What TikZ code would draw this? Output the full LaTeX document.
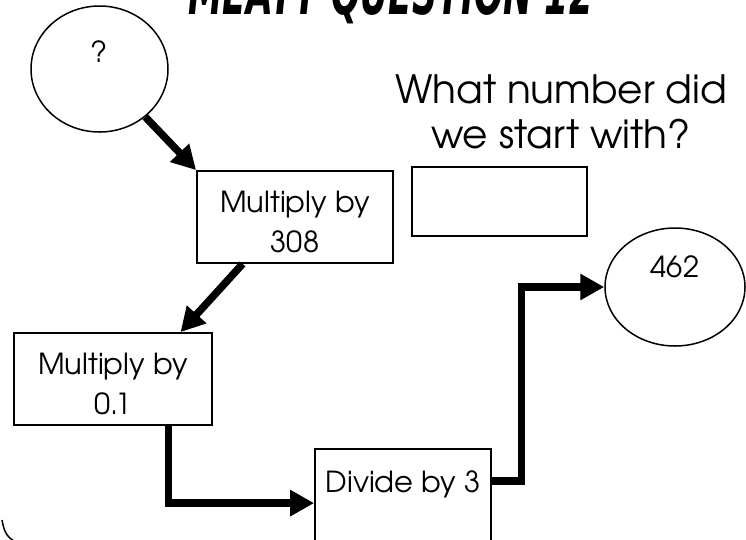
\documentclass[tikz,border=0pt]{standalone}
\usepackage{fontspec}
\setmainfont{texgyreadventor-regular.otf}
\newfontfamily\titlefont{DejaVu Sans}
\usetikzlibrary{shapes.geometric,arrows.meta,calc}
\begin{document}
\begin{tikzpicture}[x=1pt,y=-1pt,
  box/.style={draw, line width=1.8pt, inner sep=0pt},
  ell/.style={draw, ellipse, line width=1.5pt, inner sep=0pt},
  lbl/.style={inner sep=0pt, align=center, font=\fontsize{29}{40}\selectfont},
  conn/.style={line width=7.5pt, line join=miter,
    -{Triangle[length=24pt,width=25pt]}},
  frame/.style={line width=1.5pt}]
\useasboundingbox (0,0) rectangle (746,539);
\clip (0,0) rectangle (746,539);

% title (clipped at the top edge)
\node[anchor=base west, inner sep=0pt] (title) at (188,14)
  {\resizebox{405pt}{48pt}{\titlefont\bfseries\itshape MEATY QUESTION 12}};

% nodes
\node[ell, minimum width=137pt, minimum height=126pt,
  label={[lbl, yshift=17pt]center:?}] (start) at (99.5,69) {};
\node[box, minimum width=196pt, minimum height=92pt,
  label={[lbl, yshift=-5pt]center:Multiply by\\308}] (b1) at (295,217) {};
\node[box, minimum width=198pt, minimum height=92pt,
  label={[lbl, yshift=-5pt]center:Multiply by\\0.1}] (b2) at (113,379) {};
\node[box, minimum width=176pt, minimum height=130pt,
  label={[lbl, anchor=base, yshift=-44pt]north:Divide by 3}] (b3) at (403,514) {};
\node[ell, minimum width=140pt, minimum height=118pt,
  label={[lbl, yshift=20pt]center:462}] (end) at (675,287) {};
\node[box, minimum width=175pt, minimum height=69pt] (ans) at (499.5,201.5) {};
\node[inner sep=0pt, align=center, font=\fontsize{39}{45}\selectfont] (question)
  at (561,112) {What number did\\we start with?};

% connectors
\draw[conn] (start) -- (b1.north west);
\draw[conn] ($(b1.south west)!0.235!(b1.south east)$) -- ($(b2.north west)!0.838!(b2.north east)$);
\draw[conn] ($(b2.south west)!0.778!(b2.south east)$) |- ($(b3.north west)+(0,55)$);
\draw[conn] ($(b3.north east)+(0,33)$) -| ($(end.west)+(-83,0)$) -- (end.west);

% corner of the slide frame
\draw[frame] (2,520) to[out=-80,in=150] (14,541);
\end{tikzpicture}
\end{document}
